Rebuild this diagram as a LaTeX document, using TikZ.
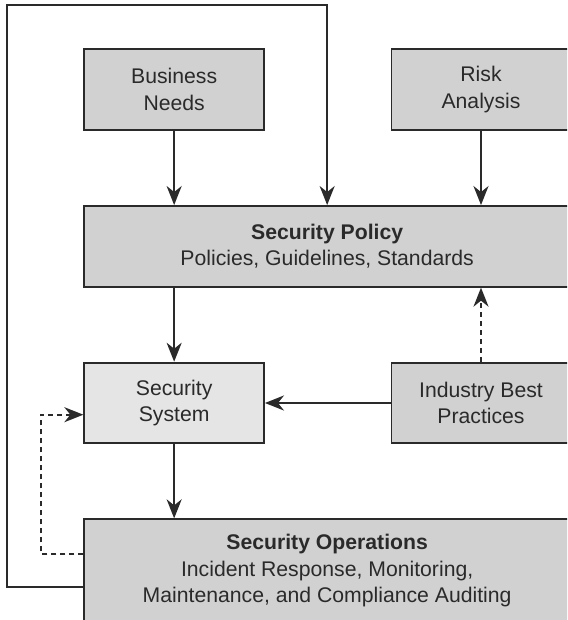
\documentclass[tikz,border=0pt]{standalone}
\usepackage{fontspec}
\setmainfont{Liberation Sans}
\usetikzlibrary{arrows.meta}
\definecolor{boxgray}{HTML}{D1D1D1}
\definecolor{boxlight}{HTML}{E5E5E5}
\definecolor{ink}{HTML}{2A2A2A}
\tikzset{
  box/.style={draw=ink, line width=1.9pt, fill=boxgray, text=ink, inner sep=0pt,
    align=center, font=\fontsize{21.2}{26.5}\selectfont},
  lightbox/.style={box, fill=boxlight},
  conn/.style={draw=ink, line width=1.9pt, -{Stealth[length=19pt, width=15pt, inset=6pt]}},
  dconn/.style={conn, dash pattern=on 5pt off 4pt}
}
\begin{document}
\begin{tikzpicture}[x=1pt, y=-1pt]
\clip (0,0) rectangle (567,620);
\fill[white] (0,0) rectangle (567,620);
\node[box, minimum width=179.7pt, minimum height=80.7pt] (bn) at (174.15,89.65) {Business\\Needs};
\node[box, minimum width=179pt, minimum height=80.7pt] (ra) at (481,89.65) {Risk\\Analysis};
\node[box, minimum width=485.7pt, minimum height=80.7pt] (sp) at (327.15,246.35) {\textbf{Security Policy}\\Policies, Guidelines, Standards};
\node[lightbox, minimum width=179.7pt, minimum height=80.6pt] (ss) at (174.15,403) {Security\\System};
\node[box, minimum width=179pt, minimum height=80.6pt] (ibp) at (481,403) {Industry Best\\Practices};
\node[box, minimum width=485.7pt, minimum height=103.4pt] (so) at (327.15,571) {\textbf{Security Operations}\\Incident Response, Monitoring,\\Maintenance, and Compliance Auditing};
\coordinate (fb1) at (7.3,586.7);
\coordinate (fbtop) at (327.15,5);
\coordinate (db) at (40.9,554);
\coordinate (dt) at (40.9,414.7);
\draw[conn] (bn.south) -- (bn.south |- sp.north);
\draw[conn] (ra.south) -- (ra.south |- sp.north);
\draw[conn] (sp.south -| ss.north) -- (ss.north);
\draw[conn] (ss.south) -- (ss.south |- so.north);
\draw[conn] (ibp.west) -- (ss.east);
\draw[dconn] (ibp.north) -- (ibp.north |- sp.south);
\draw[conn] (so.west |- fb1) -- (fb1) |- (fbtop) -- (sp.north);
\draw[dconn] (so.west |- db) -- (db) -- (dt) -- (ss.west |- dt);
\end{tikzpicture}
\end{document}
